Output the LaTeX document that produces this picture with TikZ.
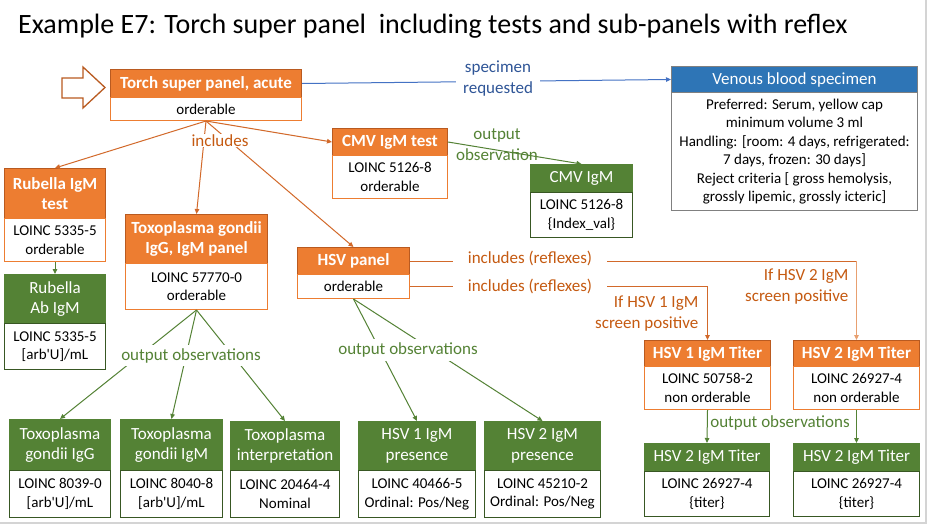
\documentclass[tikz,border=0pt]{standalone}
\usepackage{fontspec}
\setmainfont{Carlito}
\usetikzlibrary{arrows.meta}
\definecolor{orng}{HTML}{ED7D31}
\definecolor{orngdk}{HTML}{B95A20}
\definecolor{orngtxt}{HTML}{C55A11}
\definecolor{orngln}{HTML}{D2692A}
\definecolor{orngpale}{HTML}{E8A070}
\definecolor{grn}{HTML}{548235}
\definecolor{grndk}{HTML}{385723}
\definecolor{blu}{HTML}{2E75B6}
\definecolor{blutxt}{HTML}{2F5597}
\definecolor{bluln}{HTML}{4472C4}
\definecolor{framegray}{HTML}{D4D4D4}
\newcommand\hfont{\fontsize{17}{20.5}\selectfont}
\newcommand\bfont{\fontsize{15}{18.5}\selectfont}
\newcommand\lfont{\fontsize{17}{21}\selectfont}
\newcommand\arbu{{}[arb\textquotesingle U]/mL}
% #1 style prefix, #2 name, #3 x1, #4 x2, #5 y1, #6 y2, #7 y3, #8 header, #9 body
\newcommand\mkbox[9]{%
  \node[#1hdr, minimum width={#4-#3}, minimum height={#6-#5}] (#2-h) at (#3,#5) {#8};
  \node[#1body, minimum width={#4-#3}, minimum height={#7-#6}] (#2-b) at (#3,#6) {#9};
}
\begin{document}
\begin{tikzpicture}[x=1pt,y=-1pt,
  boxbase/.style={anchor=north west, inner sep=0pt, align=center, line width=1pt},
  ohdr/.style={boxbase, fill=orng, draw=orngdk, text=white, font=\hfont\bfseries},
  obody/.style={boxbase, fill=white, draw=orng, font=\bfont},
  ghdr/.style={boxbase, fill=grn, draw=grn, text=white, font=\hfont},
  gbody/.style={boxbase, fill=white, draw=grndk, font=\bfont},
  bhdr/.style={boxbase, fill=blu, draw=gray, text=white, font=\hfont},
  bbody/.style={boxbase, fill=white, draw=gray, font=\bfont},
  tip/.style={-{Triangle[length=5pt,width=4.5pt]}},
  oline/.style={tip, draw=orngln, line width=1pt},
  gline/.style={tip, draw=grn, line width=1pt},
  bline/.style={tip, draw=bluln, line width=1pt},
  lbl/.style={font=\lfont, align=center, inner sep=1.5pt},
  olbl/.style={lbl, text=orngtxt},
  glbl/.style={lbl, text=grn},
  blbl/.style={lbl, text=blutxt}
]
\useasboundingbox (0,0) rectangle (933,525);
\fill[white] (0,0) rectangle (933,525);
\draw[framegray, line width=1.5pt] (926,0) -- (926,523) -- (0,523);

\node[anchor=base west, inner sep=0pt, font=\fontsize{28}{30}\selectfont] (title) at (18,33)
  {Example E7: Torch super panel\ \ including tests and sub-panels with reflex};

% order arrow
\draw[orngdk, fill=white, line width=1.3pt] (62,78) -- (83,78) -- (83,67) -- (105,87.5)
  -- (83,108) -- (83,98) -- (62,98) -- cycle;

% boxes
\mkbox{o}{torch}{110}{301}{69}{97}{120}{Torch super panel, acute}{orderable}
\mkbox{b}{ven}{671}{917}{66}{92}{210}{Venous blood specimen}{Preferred: Serum, yellow cap\\minimum volume 3 ml\\Handling: [room: 4 days, refrigerated:\\7 days, frozen: 30 days]\\Reject criteria [ gross hemolysis,\\grossly lipemic, grossly icteric]}
\mkbox{o}{cmv}{332}{447}{128}{155}{198}{CMV IgM test}{LOINC 5126-8\\orderable}
\mkbox{g}{cmvo}{530}{632}{164}{192}{237}{CMV IgM}{LOINC 5126-8\\\{Index\_val\}}
\mkbox{o}{rub}{4}{105}{168}{218}{261}{Rubella IgM\\test}{LOINC 5335-5\\orderable}
\mkbox{g}{rubo}{4}{105}{274}{323}{369}{Rubella\\Ab IgM}{LOINC 5335-5\\\arbu}
\mkbox{o}{toxo}{125}{267}{214}{263}{309}{Toxoplasma gondii\\IgG, IgM panel}{LOINC 57770-0\\orderable}
\mkbox{o}{hsv}{297}{409}{247}{274}{298}{HSV panel}{orderable}
\mkbox{o}{hta}{644}{770}{340}{366}{409}{HSV 1 IgM Titer}{LOINC 50758-2\\non orderable}
\mkbox{o}{htb}{793}{919}{340}{366}{409}{HSV 2 IgM Titer}{LOINC 26927-4\\non orderable}
\mkbox{g}{tgg}{9}{110}{419}{470}{517}{Toxoplasma\\gondii IgG}{LOINC 8039-0\\\arbu}
\mkbox{g}{tgm}{120}{222}{419}{470}{517}{Toxoplasma\\gondii IgM}{LOINC 8040-8\\\arbu}
\mkbox{g}{tint}{230}{339}{421}{470}{517}{Toxoplasma\\interpretation}{LOINC 20464-4\\Nominal}
\mkbox{g}{hpa}{358}{475}{421}{470}{517}{HSV 1 IgM\\presence}{LOINC 40466-5\\Ordinal: Pos/Neg}
\mkbox{g}{hpb}{484}{600}{421}{470}{517}{HSV 2 IgM\\presence}{LOINC 45210-2\\Ordinal: Pos/Neg}
\mkbox{g}{toa}{644}{769}{443}{471}{516}{HSV 2 IgM Titer}{LOINC 26927-4\\\{titer\}}
\mkbox{g}{tob}{793}{919}{443}{471}{516}{HSV 2 IgM Titer}{LOINC 26927-4\\\{titer\}}

% connectors
\draw[bline] (torch-h.east) -- (ven-h.west);
\draw[oline] (torch-b.south) -- (rub-h.north);
\draw[oline] (torch-b.south) -- (toxo-h.north);
\draw[oline] (torch-b.south) -- (hsv-h.north);
\draw[oline] (torch-b.south) -- (cmv-h.west);
\draw[gline] (cmv-h.east) -- (cmvo-h.north);
\draw[gline] (rub-b.south) -- (rubo-h.north);
\draw[gline] (toxo-b.south) -- (tgg-h.north);
\draw[gline] (toxo-b.south) -- (tgm-h.north);
\draw[gline] (toxo-b.south) -- (tint-h.north);
\draw[gline] (hsv-b.south) -- (hpa-h.north);
\draw[gline] (hsv-b.south) -- (hpb-h.north);
\coordinate (cnr2) at (hsv-h.east -| htb-h.north);
\draw[draw=orngln, line width=1pt] (hsv-h.east) -- (cnr2);
\draw[oline, draw=orngpale] (cnr2) -- (htb-h.north);
\draw[oline] (hsv-b.east) -| (hta-h.north);
\draw[gline] (hta-b.south) -- (toa-h.north);
\draw[gline] (htb-b.south) -- (tob-h.north);

% labels
\node[blbl, fill=white, inner xsep=7pt] (l-spec) at (498,79) {specimen\\requested};
\node[olbl, fill=white, inner xsep=25pt, inner ysep=0.5pt] (l-inc) at (220,140.5) {includes};
\node[glbl] (l-cmv) at (497,144.5) {output\\observation};
\node[glbl, fill=white, inner xsep=2pt, inner ysep=3.5pt] (l-tox) at (191,355.5) {output observations};
\node[glbl, fill=white, inner xsep=2pt, inner ysep=3.5pt] (l-hsv) at (408,350) {output observations};
\node[olbl, fill=white, inner xsep=15pt] (l-r1) at (530,258) {includes (reflexes)};
\node[olbl, fill=white, inner xsep=15pt] (l-r2) at (530,286) {includes (reflexes)};
\node[olbl, align=right, anchor=east] (l-if1) at (700,314) {If HSV 1 IgM\\screen positive};
\node[olbl, align=right, anchor=east] (l-if2) at (850,287) {If HSV 2 IgM\\screen positive};
\node[glbl] (l-tit) at (780,423) {output observations};
\end{tikzpicture}
\end{document}
